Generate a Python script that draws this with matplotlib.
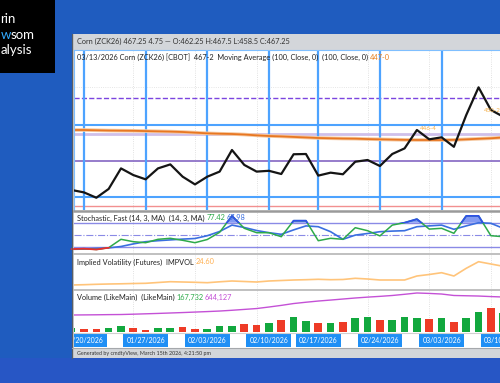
import numpy as np
import matplotlib
matplotlib.use("Agg")
import matplotlib.pyplot as plt
from matplotlib.patches import Rectangle
from matplotlib.lines import Line2D
from matplotlib.transforms import blended_transform_factory

plt.rcParams['font.family'] = ['Lato', 'DejaVu Sans']

W, H = 500, 383

# trading-day index, 0 = 01/20/2026 ... 37 = 03/13/2026
days = np.arange(-1, 38)
close = [425.5, 424.6, 422.6, 425.9, 433.6, 431.1, 429.5, 433.6, 435.1, 430.5,
         427.6, 430.5, 432.4, 440.5, 434.9, 432.4, 432.7, 431.5, 438.9, 439.0,
         430.9, 432.0, 431.4, 436.1, 436.75, 434.5, 439.0, 441.1, 448.0, 444.5,
         445.25, 441.7, 453.6, 464.0, 455.5, 453.0, 460.0, 462.5, 467.25]
ma100 = [448.0, 448.0, 447.9, 447.8, 447.75, 447.7, 447.6, 447.5, 447.4, 447.25,
         447.0, 446.75, 446.6, 446.5, 446.3, 446.0, 445.75, 445.6, 445.4, 445.2,
         445.0, 444.9, 444.8, 444.75, 444.6, 444.5, 444.4, 444.3, 444.25, 444.25,
         444.25, 444.3, 444.5, 444.7, 444.9, 445.2, 445.6, 446.3, 447.0]
stoch_k = [14, 15, 13, 17.5, 38.5, 32.5, 30, 38.5, 41, 36,
           30, 38, 56, 97, 66, 55, 55, 45, 85, 85,
           35, 41, 38.5, 67.5, 60, 47, 74, 80, 89, 64,
           66, 53.5, 97, 97, 47.5, 45, 60, 70, 77.42]
stoch_d = [13.5, 14, 15.5, 17, 20.5, 27, 32.5, 35, 37, 39,
           40.5, 47.5, 58, 74, 68, 60.5, 55, 51, 62, 72,
           70, 57.5, 38.5, 49, 53, 57.5, 59, 60, 70, 72,
           74, 63.5, 72, 80, 78.5, 66, 62, 65, 67.98]
impvol = [20.4, 20.46, 20.54, 20.6, 20.64, 20.7, 20.74, 20.9, 21.06, 21.0,
          20.94, 20.86, 21.04, 21.2, 21.1, 21.0, 21.2, 21.3, 21.4, 21.46,
          21.54, 21.46, 21.5, 21.74, 21.6, 21.4, 21.4, 21.4, 22.2, 22.5,
          22.86, 22.2, 23.74, 25.06, 24.6, 24.14, 24.3, 24.5, 24.6]
volume = [74, 55, 55, 74, 116, 74, 46, 79, 79, 92,
          64, 64, 105, 105, 142, 129, 166, 215, 276, 202,
          166, 166, 184, 252, 282, 226, 221, 282, 263, 245,
          252, 184, 263, 362, 436, 350, 300, 250, 167.732]
vol_up = [1, 0, 0, 1, 1, 0, 0, 1, 1, 0,
          0, 1, 1, 1, 0, 0, 1, 0, 1, 1,
          0, 1, 0, 1, 1, 0, 1, 1, 1, 0,
          1, 0, 1, 1, 0, 1, 1, 1, 1]
open_int = [313, 315, 317, 320, 322, 328, 335, 342, 350, 358,
            367, 376, 386, 400, 416, 432, 460, 490, 524, 548,
            570, 588, 607, 626, 642, 656, 672, 694, 718, 710,
            699, 672, 667, 662, 652, 644, 644, 645, 644.127]

date_days = [0, 5, 10, 15, 19, 24, 29, 34]
date_labels = ['01/20/2026', '01/27/2026', '02/03/2026', '02/10/2026',
               '02/17/2026', '02/24/2026', '03/03/2026', '03/10/2026']
monday_days = [4, 9, 14, 23, 28, 33]
levels = [460.0, 450.0, 446.5, 436.5, 422.75, 419.5]
level_styles = [('#7b45e0', '--', 1.0), ('#4da3ff', '-', 1.5), ('#cfc0ea', '-', 2.0),
                ('#8466c2', '-', 1.2), ('#4da3ff', '-', 1.5), ('#f29090', '-', 1.0)]


def rect(x0, y0, x1, y1):
    return [x0 / W, 1 - y1 / H, (x1 - x0) / W, (y1 - y0) / H]


fig = plt.figure(figsize=(5, 3.83), dpi=100, facecolor='#1f5cbf')


def fig_rect(x0, y0, x1, y1, color, z=-5):
    fig.patches.append(Rectangle((x0 / W, 1 - y1 / H), (x1 - x0) / W, (y1 - y0) / H,
                                 transform=fig.transFigure, facecolor=color,
                                 edgecolor='none', zorder=z))


def fig_hline(y, x0, x1, color, lw, z=5):
    fig.add_artist(Line2D([x0 / W, x1 / W], [1 - y / H, 1 - y / H], color=color,
                          lw=lw, zorder=z, transform=fig.transFigure))


def fig_vline(x, y0, y1, color, lw, z=5):
    fig.add_artist(Line2D([x / W, x / W], [1 - y0 / H, 1 - y1 / H], color=color,
                          lw=lw, zorder=z, transform=fig.transFigure))


def pieces(x, y, parts, size, gap=1.5):
    # draw coloured text pieces one after another
    r = fig.canvas.get_renderer()
    for s, c in parts:
        t = fig.text(x / W, 1 - y / H, s, color=c, fontsize=size, va='center', ha='left')
        x = t.get_window_extent(r).x1 + gap


# background pieces
fig_rect(0, 358, W, H, '#2756c5')
fig_rect(0, 0, 55, 73, '#000000')
fig_rect(72, 34, W, 358, '#ffffff')
fig_rect(72, 34, W, 50, '#d3d6da')
fig_rect(72, 348, W, 358, '#d3d6da')
fig_rect(72, 34, 74, 358, '#c4c7cb')
fig_vline(72, 34, 358, '#5a5f66', 0.8)

pieces(0.6, 19, [('rin', 'white')], 9.5)
pieces(0.6, 35, [('w', '#33aaff'), ('som', 'white')], 9.5, gap=0)
pieces(0.6, 50, [('alysis', 'white')], 9.5)

xl = ((74 - 84) / 12.33, (500 - 84) / 12.33)

ax_p = fig.add_axes(rect(74, 50, 500, 210))
ax_s = fig.add_axes(rect(74, 212, 500, 253))
ax_iv = fig.add_axes(rect(74, 254, 500, 289))
ax_v = fig.add_axes(rect(74, 290, 500, 333))
ax_d = fig.add_axes(rect(74, 333, 500, 348))
for a in (ax_p, ax_s, ax_iv, ax_v, ax_d):
    a.set_xlim(*xl)
    a.set_xticks([])
    a.set_yticks([])
    for sp in a.spines.values():
        sp.set_visible(False)
    for d in monday_days:
        if a is not ax_d:
            a.axvline(d, color='#d8d8d8', lw=0.6, ls=':', zorder=0)
ax_p.spines['top'].set_visible(True)
ax_p.spines['left'].set_visible(True)
ax_p.spines['top'].set_color('#7fbfff')
ax_p.spines['left'].set_color('#7fbfff')

# price panel
ax_p.set_ylim(418.0, 478.0)
ax_p.axhline(464, color='#dddddd', lw=0.6, ls=':', zorder=0)
for lv, (c, ls, lw) in zip(levels, level_styles):
    ax_p.axhline(lv, color=c, ls=ls, lw=lw, zorder=1)
for d in date_days:
    ax_p.axvline(d, color='#4da3ff', lw=1.6, zorder=1)
ax_p.plot(days, ma100, color='#f5c8a0', lw=2.6, zorder=2)
ax_p.plot(days, ma100, color='#e87722', lw=1.3, zorder=2)
ax_p.plot(days, close, color='#151515', lw=1.6, zorder=3)
ax_p.text(27.9, 447.6, '446-4', color='#f5b04a', fontsize=4.5, ha='center', va='bottom')
ax_p.text(32.4, 454.4, '450-2', color='#f5b04a', fontsize=4.5, ha='left', va='bottom',
          clip_on=True)

# stochastic panel
ax_s.set_ylim(4.25, 106.75)
k = np.array(stoch_k)
ax_s.axhline(80, color='#8a8ae6', lw=1.0)
ax_s.axhline(20, color='#8a8ae6', lw=1.0)
ax_s.axhline(50, color='#8a8ae6', lw=0.8, ls='-.')
ax_s.fill_between(days, k, 80, where=k > 80, interpolate=True, color='#5a78f0', alpha=0.75, lw=0)
ax_s.fill_between(days, k, 20, where=k < 20, interpolate=True, color='#f05050', alpha=0.7, lw=0)
ax_s.plot(days, stoch_d, color='#3a6fe0', lw=1.2)
ax_s.plot(days, k, color='#2eaa4a', lw=1.1)
hi, = ax_s.plot(days, k, color='#2f50e8', lw=1.3)
hi.set_clip_path(Rectangle((-5, 80), 50, 50, transform=ax_s.transData))
lo, = ax_s.plot(days, k, color='#e83030', lw=1.3)
lo.set_clip_path(Rectangle((-5, -10), 50, 30, transform=ax_s.transData))

# implied volatility panel
ax_iv.set_ylim(19.6, 26.6)
ax_iv.plot(days, impvol, color='#ffc47a', lw=1.2)

# volume panel
ax_v.set_ylim(-18, 773)
cols = ['#12a83e' if u else '#ee3b26' for u in vol_up]
ax_v.bar(days, volume, width=0.62, color=cols, linewidth=0.0)
ax_v.plot(days, open_int, color='#c451d6', lw=1.0)

# date labels
tr = blended_transform_factory(ax_d.transData, ax_d.transAxes)
for d, s in zip(date_days, date_labels):
    ax_d.text(d, 0.5, s, transform=tr, ha='center', va='center', color='white',
              fontsize=5, clip_on=True,
              bbox=dict(boxstyle='square,pad=0.45', fc='#1f8ff5', ec='none'))

# separators
fig_hline(211, 74, W, '#9a9a9a', 1.8)
fig_hline(253.5, 74, W, '#b5b5b5', 1.2)
fig_hline(289.5, 74, W, '#b5b5b5', 1.2)
fig_hline(333.3, 74, W, '#d0d0d0', 0.8)
fig_hline(348, 72, W, '#a5a8ac', 0.8)

# texts
pieces(77, 41.5, [('Corn (ZCK26) 467.25 4.75 \u2014 O:462.25 H:467.5 L:458.5 C:467.25', '#333333')], 5.3)
pieces(77, 57, [('03/13/2026 Corn (ZCK26) [CBOT]  467-2  Moving Average (100, Close, 0)  (100, Close, 0)', '#222222'),
                ('447-0', '#e8801e')], 5.3)
pieces(77, 218, [('Stochastic, Fast (14, 3, MA)  (14, 3, MA)', '#222222'), ('77.42', '#2eaa4a'),
                 ('67.98', '#3a6fe0')], 5.3)
pieces(77, 262, [('Implied Volatility (Futures)  IMPVOL', '#222222'), ('24.60', '#ffb050')], 5.3)
pieces(77, 297, [('Volume (LikeMain)  (LikeMain)', '#222222'), ('167,732', '#2eaa4a'),
                 ('644,127', '#c451d6')], 5.3)
pieces(77, 354, [('Generated by cmdtyView, March 15th 2026, 4:21:50 pm', '#333333')], 3.9)

fig.savefig('out.png', dpi=100, facecolor=fig.get_facecolor())
